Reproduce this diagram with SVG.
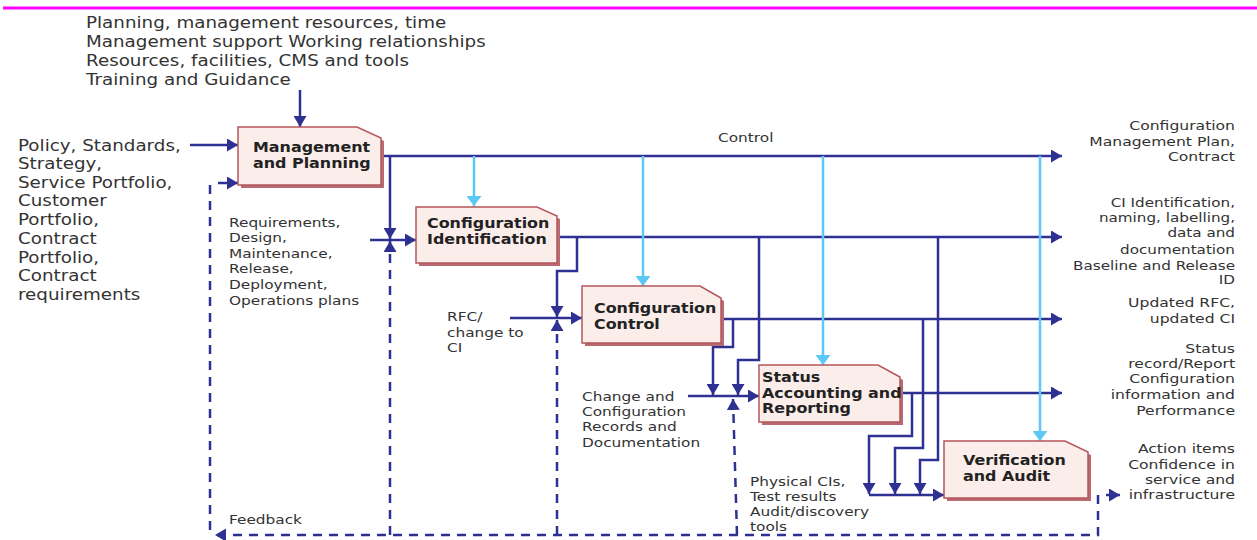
<svg xmlns="http://www.w3.org/2000/svg" width="1257" height="540" viewBox="0 0 1257 540">
<style>
.t{font-family:"DejaVu Sans",Verdana,sans-serif;font-size:13px;fill:#333}
.t15{font-family:"DejaVu Sans",Verdana,sans-serif;font-size:15px;fill:#333}
.b{font-family:"DejaVu Sans",Verdana,sans-serif;font-size:13.5px;font-weight:bold;fill:#222}
.box{fill:#FAEDEA;stroke:#B5565C;stroke-width:1.5}
.sh{fill:#B86A70}
.c{fill:none;stroke:#2E3192;stroke-width:2.5;marker-end:url(#ab)}
.lb{fill:none;stroke:#5CC8F8;stroke-width:2.5;marker-end:url(#al)}
.d{fill:none;stroke:#2E3192;stroke-width:2.5;stroke-dasharray:9 7}
</style>
<defs>
<marker id="ab" viewBox="0 0 11 13" refX="11" refY="6.5" markerWidth="11" markerHeight="13" markerUnits="userSpaceOnUse" orient="auto"><path d="M0,0 L11,6.5 L0,13 z" fill="#2E3192"/></marker>
<marker id="al" viewBox="0 0 10 15" refX="10" refY="7.5" markerWidth="10" markerHeight="15" markerUnits="userSpaceOnUse" orient="auto"><path d="M0,0 L10,7.5 L0,15 z" fill="#5CC8F8"/></marker>
</defs>
<rect width="1257" height="540" fill="#fff"/>
<path d="M3,8 H1257" stroke="#FF00FF" stroke-width="3"/>

<g id="connectors">
<path class="c" d="M300,90 V127"/>
<path class="c" d="M190,145 H238"/>
<path class="c" d="M218,183 H238"/>
<path class="c" d="M381,156 H1062"/>
<path class="c" d="M390,156 V239"/>
<path class="c" d="M370,240 H416"/>
<path class="c" d="M557,237 H1062"/>
<path class="c" d="M577,237 V271 H557 V317"/>
<path class="c" d="M510,318 H582"/>
<path class="c" d="M722,319 H1062"/>
<path class="c" d="M733,319 V347 H713 V395"/>
<path class="c" d="M759,237 V360 H738 V395"/>
<path class="c" d="M688,396 H759"/>
<path class="c" d="M900,393 H1062"/>
<path class="c" d="M912,393 V436 H869 V494"/>
<path class="c" d="M923,319 V448 H895 V494"/>
<path class="c" d="M938,237 V460 H920 V494"/>
<path class="c" d="M869,495 H944"/>
<path class="lb" d="M474,156 V206"/>
<path class="lb" d="M643,156 V286"/>
<path class="lb" d="M823,156 V365"/>
<path class="lb" d="M1040,156 V441"/>
<path class="d" d="M1098,495 V535 H215" marker-end="url(#ab)"/>
<path class="d" d="M210,530 V183"/>
<path class="d" d="M390,535 V241" marker-end="url(#ab)"/>
<path class="d" d="M557,535 V320" marker-end="url(#ab)"/>
<path class="d" d="M737,535 L733,399" marker-end="url(#ab)"/>
<path class="c" d="M1106,495 H1120"/>
</g>

<g id="n-management">
<path class="sh" d="M241,130 H360 L384,141 V188 H241 Z"/>
<path class="box" d="M238,127 H357 L381,138 V185 H238 Z"/>
<text class="b" transform="matrix(1.18,0,0,1,253,0)"><tspan x="0" y="152">Management</tspan><tspan x="0" y="168">and Planning</tspan></text>
</g>
<g id="n-identification">
<path class="sh" d="M419,210 H540 L560,219 V266 H419 Z"/>
<path class="box" d="M416,207 H537 L557,216 V263 H416 Z"/>
<text class="b" transform="matrix(1.18,0,0,1,427,0)"><tspan x="0" y="228">Configuration</tspan><tspan x="0" y="244">Identification</tspan></text>
</g>
<g id="n-control">
<path class="sh" d="M585,289 H703 L724,301 V346 H585 Z"/>
<path class="box" d="M582,286 H700 L721,298 V343 H582 Z"/>
<text class="b" transform="matrix(1.18,0,0,1,594,0)"><tspan x="0" y="313">Configuration</tspan><tspan x="0" y="329">Control</tspan></text>
</g>
<g id="n-status">
<path class="sh" d="M762,368 H881 L903,380 V425 H762 Z"/>
<path class="box" d="M759,365 H878 L900,377 V422 H759 Z"/>
<text class="b" transform="matrix(1.18,0,0,1,762,0)"><tspan x="0" y="382">Status</tspan><tspan x="0" y="398">Accounting and</tspan><tspan x="0" y="413">Reporting</tspan></text>
</g>
<g id="n-verification">
<path class="sh" d="M947,444 H1068 L1091,455 V501 H947 Z"/>
<path class="box" d="M944,441 H1065 L1088,452 V498 H944 Z"/>
<text class="b" transform="matrix(1.18,0,0,1,963,0)"><tspan x="0" y="465">Verification</tspan><tspan x="0" y="481">and Audit</tspan></text>
</g>

<g id="labels">
<text class="t15" transform="matrix(1.22,0,0,1,86,0)"><tspan x="0" y="28">Planning, management resources, time</tspan><tspan x="0" y="47">Management support Working relationships</tspan><tspan x="0" y="66">Resources, facilities, CMS and tools</tspan><tspan x="0" y="85">Training and Guidance</tspan></text>
<text class="t15" transform="matrix(1.22,0,0,1,18,0)"><tspan x="0" y="151">Policy, Standards,</tspan><tspan x="0" y="169">Strategy,</tspan><tspan x="0" y="188">Service Portfolio,</tspan><tspan x="0" y="206">Customer</tspan><tspan x="0" y="225">Portfolio,</tspan><tspan x="0" y="244">Contract</tspan><tspan x="0" y="263">Portfolio,</tspan><tspan x="0" y="281">Contract</tspan><tspan x="0" y="300">requirements</tspan></text>
<text class="t" transform="matrix(1.18,0,0,1,229,0)"><tspan x="0" y="227">Requirements,</tspan><tspan x="0" y="242">Design,</tspan><tspan x="0" y="258">Maintenance,</tspan><tspan x="0" y="273">Release,</tspan><tspan x="0" y="289">Deployment,</tspan><tspan x="0" y="305">Operations plans</tspan></text>
<text class="t" transform="matrix(1.18,0,0,1,447,0)"><tspan x="0" y="321">RFC/</tspan><tspan x="0" y="337">change to</tspan><tspan x="0" y="352">CI</tspan></text>
<text class="t" transform="matrix(1.18,0,0,1,582,0)"><tspan x="0" y="401">Change and</tspan><tspan x="0" y="416">Configuration</tspan><tspan x="0" y="431">Records and</tspan><tspan x="0" y="447">Documentation</tspan></text>
<text class="t" transform="matrix(1.18,0,0,1,750,0)"><tspan x="0" y="486">Physical CIs,</tspan><tspan x="0" y="501">Test results</tspan><tspan x="0" y="516">Audit/discovery</tspan><tspan x="0" y="531">tools</tspan></text>
<text class="t" transform="matrix(1.18,0,0,1,229,0)"><tspan x="0" y="524">Feedback</tspan></text>
<text class="t" transform="matrix(1.18,0,0,1,718,0)"><tspan x="0" y="142">Control</tspan></text>
<g text-anchor="end">
<text class="t" transform="matrix(1.2,0,0,1,1235,0)"><tspan x="0" y="130">Configuration</tspan><tspan x="0" y="146">Management Plan,</tspan><tspan x="0" y="161">Contract</tspan></text>
<text class="t" transform="matrix(1.17,0,0,1,1235,0)"><tspan x="0" y="207">CI Identification,</tspan><tspan x="0" y="222">naming, labelling,</tspan><tspan x="0" y="237">data and</tspan><tspan x="0" y="254">documentation</tspan><tspan x="0" y="270">Baseline and Release</tspan><tspan x="0" y="284">ID</tspan></text>
<text class="t" transform="matrix(1.2,0,0,1,1235,0)"><tspan x="0" y="307">Updated RFC,</tspan><tspan x="0" y="323">updated CI</tspan></text>
<text class="t" transform="matrix(1.2,0,0,1,1235,0)"><tspan x="0" y="353">Status</tspan><tspan x="0" y="368">record/Report</tspan><tspan x="0" y="383">Configuration</tspan><tspan x="0" y="399">information and</tspan><tspan x="0" y="415">Performance</tspan></text>
<text class="t" transform="matrix(1.2,0,0,1,1235,0)"><tspan x="0" y="453">Action items</tspan><tspan x="0" y="469">Confidence in</tspan><tspan x="0" y="484">service and</tspan><tspan x="0" y="499">infrastructure</tspan></text>
</g>
</g>
</svg>
